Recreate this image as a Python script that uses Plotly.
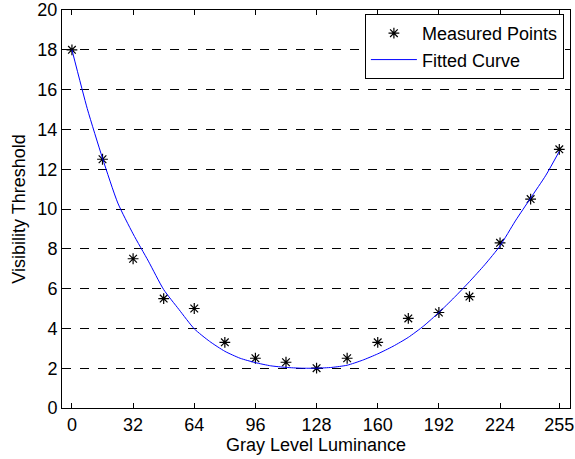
import plotly.graph_objects as go

# Measured data
measured_x = [0, 16, 32, 48, 64, 80, 96, 112, 128, 144, 160, 176, 192, 208, 224, 240, 255]
measured_y = [18.0, 12.5, 7.5, 5.5, 5.0, 3.3, 2.5, 2.3, 2.0, 2.5, 3.3, 4.5, 4.8, 5.6, 8.3, 10.5, 13.0]

# Fitted curve
curve_x = [0, 8, 16, 24, 32, 40, 48, 56, 64, 72, 80, 88, 96, 104, 112, 120, 128,
           136, 144, 152, 160, 168, 176, 184, 192, 200, 208, 216, 224, 232, 240, 248, 255]
curve_y = [18.0, 15.05, 12.55, 10.3, 8.75, 7.38, 5.95, 4.95, 3.98, 3.35, 2.85, 2.5, 2.28,
           2.12, 2.04, 2.0, 2.0, 2.04, 2.15, 2.4, 2.72, 3.1, 3.55, 4.12, 4.8, 5.55, 6.35,
           7.2, 8.15, 9.4, 10.55, 11.7, 12.9]

x_ticks = [0, 32, 64, 96, 128, 160, 192, 224, 255]
y_ticks = [0, 2, 4, 6, 8, 10, 12, 14, 16, 18, 20]

FONT = "Arial, Liberation Sans, sans-serif"
FS = 18

fig = go.Figure()
fig.add_trace(go.Scatter(
    x=measured_x, y=measured_y, mode="markers", name="Measured Points",
    marker=dict(symbol="asterisk-open", size=9, color="black",
                line=dict(color="black", width=1.2)),
))
fig.add_trace(go.Scatter(
    x=curve_x, y=curve_y, mode="lines", name="Fitted Curve",
    line=dict(color="#0000ff", width=1, shape="spline", smoothing=0.6),
))

fig.update_layout(
    width=575, height=459,
    margin=dict(l=62, r=5, t=10, b=51, autoexpand=False),
    paper_bgcolor="white", plot_bgcolor="white",
    font=dict(family=FONT, size=FS, color="black"),
    showlegend=True,
    legend=dict(
        x=0.988, y=0.99, xanchor="right", yanchor="top",
        bgcolor="white", bordercolor="black", borderwidth=1,
        font=dict(family=FONT, size=FS, color="black"),
        tracegroupgap=0, itemwidth=46,
    ),
    xaxis=dict(
        range=[-5.2, 260.6], tickvals=x_ticks, ticktext=[str(v) for v in x_ticks],
        ticks="inside", ticklen=5, tickcolor="black", tickwidth=1,
        showline=True, linecolor="black", linewidth=1, mirror="allticks",
        showgrid=False, zeroline=False, ticklabeloverflow="allow",
        title=dict(text="Gray Level Luminance", standoff=3, font=dict(size=FS)),
        tickfont=dict(size=FS),
    ),
    yaxis=dict(
        range=[0, 20], tickvals=y_ticks,
        ticks="inside", ticklen=5, tickcolor="black", tickwidth=1,
        showline=True, linecolor="black", linewidth=1, mirror="allticks",
        showgrid=True, gridcolor="black", gridwidth=1, griddash="dash",
        zeroline=False, ticklabeloverflow="allow",
        title=dict(text="Visibility Threshold", standoff=7, font=dict(size=FS)),
        tickfont=dict(size=FS),
    ),
)

fig.write_html("out.html", config={"displayModeBar": False},
               post_script="document.body.style.margin='0';")
